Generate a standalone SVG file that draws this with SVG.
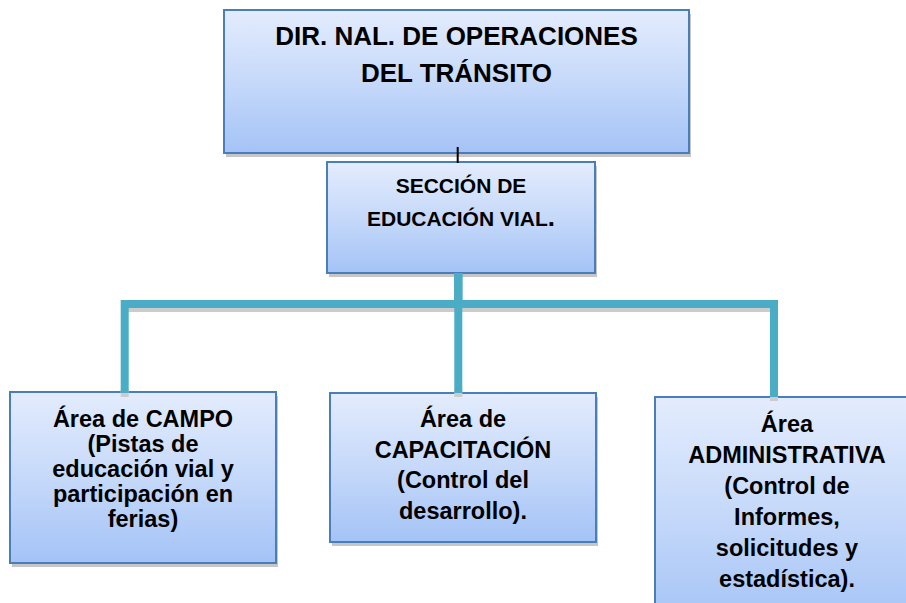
<svg xmlns="http://www.w3.org/2000/svg" width="906" height="603" viewBox="0 0 906 603">
  <defs>
    <linearGradient id="boxfill" x1="0" y1="0" x2="0" y2="1">
      <stop offset="0" stop-color="#e3ecfd"/>
      <stop offset="0.45" stop-color="#c9dbfa"/>
      <stop offset="1" stop-color="#a4c3f6"/>
    </linearGradient>
    <style>
      .shadow { fill: #c6c6c6; }
      .box { fill: url(#boxfill); stroke: #4a7ebb; stroke-width: 2; }
      .t { font-family: "Liberation Sans", Arial, sans-serif; font-weight: bold; fill: #000; text-anchor: middle; }
      .top { font-size: 26px; }
      .sec { font-size: 21px; }
      .area { font-size: 23.5px; }
      .conn { fill: none; stroke: #4bacc6; stroke-width: 8; stroke-linejoin: miter; }
      .connsh { fill: none; stroke: #cccccc; stroke-width: 8; }
      .thin { stroke: #000; stroke-width: 2; }
    </style>
  </defs>
  <rect width="906" height="603" fill="#ffffff"/>

  <g id="dir-nal">
    <rect class="shadow" x="226" y="14" width="465" height="143"/>
    <rect class="box" x="224" y="10" width="465" height="143"/>
    <text class="t top" x="456.5" y="45">DIR. NAL. DE OPERACIONES</text>
    <text class="t top" x="456.5" y="82">DEL TRÁNSITO</text>
  </g>

  <g id="seccion">
    <rect class="shadow" x="329" y="166" width="268" height="111"/>
    <rect class="box" x="327" y="162" width="268" height="111"/>
    <text class="t sec" x="461" y="193">SECCIÓN DE</text>
    <text class="t sec" x="461" y="226">EDUCACIÓN VIAL<tspan font-size="26">.</tspan></text>
  </g>

  <g id="area-campo">
    <rect class="shadow" x="12" y="396" width="266" height="171"/>
    <rect class="box" x="10" y="392" width="266" height="171"/>
    <text class="t area" x="143" y="427">Área de CAMPO</text>
    <text class="t area" x="143" y="452">(Pistas de</text>
    <text class="t area" x="143" y="477">educación vial y</text>
    <text class="t area" x="143" y="502">participación en</text>
    <text class="t area" x="143" y="527">ferias)</text>
  </g>

  <g id="area-capacitacion">
    <rect class="shadow" x="332" y="397" width="266" height="149"/>
    <rect class="box" x="330" y="393" width="266" height="149"/>
    <text class="t area" x="463" y="427">Área de</text>
    <text class="t area" x="463" y="457.5">CAPACITACIÓN</text>
    <text class="t area" x="463" y="488">(Control del</text>
    <text class="t area" x="463" y="518.5">desarrollo).</text>
  </g>

  <g id="area-administrativa">
    <rect class="shadow" x="657" y="401" width="264" height="230"/>
    <rect class="box" x="655" y="397" width="264" height="230"/>
    <text class="t area" x="787" y="431.5">Área</text>
    <text class="t area" x="787" y="462.5">ADMINISTRATIVA</text>
    <text class="t area" x="787" y="493.5">(Control de</text>
    <text class="t area" x="787" y="524.5">Informes,</text>
    <text class="t area" x="787" y="555.5">solicitudes y</text>
    <text class="t area" x="787" y="586.5">estadística).</text>
  </g>

  <g id="connectors">
    <g transform="translate(0,4)">
      <path class="connsh" d="M124.7 304 H774"/>
      <path class="connsh" d="M124.7 385 V393"/>
      <path class="connsh" d="M458.3 385 V393"/>
      <path class="connsh" d="M774 389 V397"/>
    </g>
    <path class="conn" d="M458.3 273 V304 H124.7 V393"/>
    <path class="conn" d="M458.3 273 V393"/>
    <path class="conn" d="M458.3 273 V304 H774 V397"/>
    <line class="thin" x1="457.7" y1="147" x2="457.7" y2="163"/>
  </g>
</svg>
